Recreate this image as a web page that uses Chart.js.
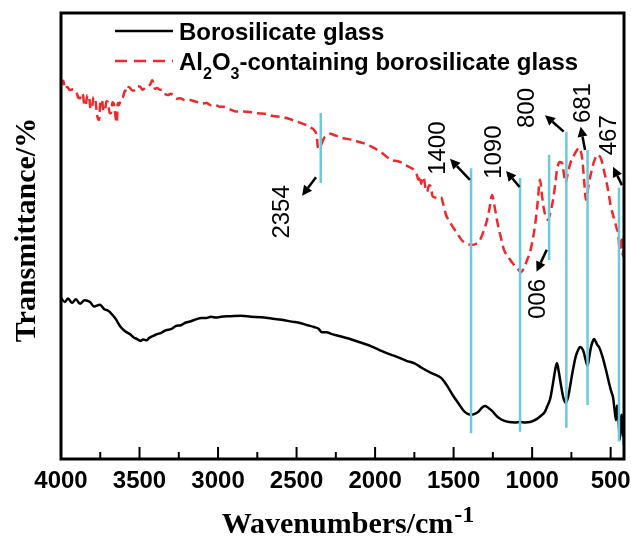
<!DOCTYPE html>
<html>
<head>
<meta charset="utf-8">
<script src="https://cdn.jsdelivr.net/npm/chart.js@4.4.0/dist/chart.umd.min.js"></script>
<style>
  html, body { margin: 0; padding: 0; background: #fff; }
  #wrap { width: 631px; height: 537px; }
</style>
</head>
<body>
<div id="wrap"><canvas id="ftir"></canvas></div>
<script>
// FTIR spectra, transmittance in arbitrary units (0-100)
const seriesNames = ['Borosilicate glass', 'Al2O3-containing borosilicate glass'];

const xTicks = [500, 750, 1000, 1250, 1500, 1750, 2000, 2250, 2500, 2750, 3000, 3250, 3500, 3750, 4000];

// Borosilicate glass
const boroWn = [4000, 3975, 3955, 3930, 3905, 3879, 3850, 3815, 3790, 3752, 3725, 3697, 3656, 3620, 3590, 3561,
  3535, 3516, 3495, 3478, 3455, 3440, 3400, 3363, 3330, 3300, 3270, 3236, 3205, 3172, 3140, 3108, 3075, 3045,
  3010, 2981, 2920, 2854, 2790, 2726, 2660, 2593, 2530, 2478, 2430, 2389, 2360, 2338, 2310, 2274, 2211, 2150,
  2083, 2020, 1956, 1900, 1860, 1800, 1752, 1700, 1644, 1610, 1580, 1560, 1536, 1505, 1472, 1440, 1427, 1410,
  1389, 1365, 1345, 1320, 1300, 1280, 1255, 1230, 1211, 1180, 1147, 1110, 1077, 1045, 1013, 990, 969, 940, 920,
  905, 885, 867, 855, 842, 830, 816, 800, 785, 770, 755, 740, 723, 710, 695, 682, 670, 660, 647, 636, 625, 615,
  606, 595, 585, 574, 555, 530, 510, 495, 485, 475, 466, 460, 453, 447, 441, 435, 428, 422, 418, 415];
const boroT = [36.1, 35.2, 36.0, 35.0, 35.8, 34.8, 35.6, 35.2, 34.2, 34.6, 33.6, 33.2, 31.6, 29.6, 28.6, 28.0,
  27.2, 26.9, 26.5, 26.8, 26.6, 27.1, 27.8, 28.3, 28.9, 29.1, 29.8, 30.0, 30.6, 30.9, 31.3, 31.6, 31.6, 31.9,
  31.7, 31.9, 32.0, 32.1, 31.9, 31.8, 31.5, 31.2, 30.8, 30.5, 30.0, 29.6, 29.2, 28.4, 28.4, 28.0, 27.4, 26.8,
  26.0, 25.2, 24.2, 23.4, 22.9, 22.0, 21.5, 20.4, 19.3, 18.8, 18.2, 17.4, 16.1, 14.3, 12.6, 11.0, 10.5, 10.1,
  9.9, 10.1, 10.5, 11.5, 11.9, 11.5, 10.8, 9.8, 9.2, 8.6, 8.3, 8.2, 8.3, 8.2, 8.3, 8.6, 9.0, 9.8, 10.5,
  11.7, 13.5, 17.0, 19.6, 21.5, 19.5, 16.5, 13.6, 12.6, 14.0, 17.0, 20.0, 22.9, 24.2, 25.1, 24.8, 23.8, 22.3, 20.9, 23.0, 25.1, 26.3,
  26.9, 26.3, 25.6, 25.1, 23.3, 20.0, 17.0, 15.0, 13.9, 11.0, 8.7, 12.0, 10.5, 7.0, 4.3, 9.0, 9.9, 5.0, 8.0, 3.1];

// Al2O3-containing borosilicate glass
const aluWn = [4000, 3985, 3975, 3960, 3943, 3925, 3900, 3890, 3879, 3868, 3860, 3850, 3841, 3832, 3822, 3812,
  3803, 3793, 3783, 3770, 3758, 3748, 3739, 3730, 3720, 3710, 3701, 3690, 3682, 3672, 3663, 3652, 3645, 3638,
  3631, 3618, 3605, 3592, 3580, 3570, 3561, 3545, 3529, 3512, 3497, 3480, 3465, 3450, 3433, 3420, 3414, 3402,
  3389, 3370, 3350, 3335, 3319, 3300, 3287, 3265, 3242, 3210, 3179, 3150, 3128, 3100, 3072, 3045, 3019, 2990,
  2968, 2925, 2881, 2840, 2796, 2750, 2701, 2650, 2595, 2550, 2510, 2470, 2440, 2410, 2389, 2372, 2363, 2350,
  2338, 2325, 2312, 2287, 2250, 2211, 2150, 2083, 2050, 2020, 1990, 1956, 1920, 1892, 1860, 1828, 1790, 1752,
  1735, 1723, 1715, 1707, 1697, 1688, 1678, 1669, 1656, 1644, 1635, 1625, 1600, 1580, 1565, 1548, 1525, 1504,
  1475, 1449, 1421, 1400, 1383, 1360, 1332, 1310, 1287, 1270, 1255, 1240, 1224, 1200, 1179, 1150, 1124, 1095,
  1071, 1050, 1030, 1015, 1000, 983, 965, 950, 937, 924, 910, 899, 880, 864, 850, 842, 825, 810, 798, 788, 772,
  756, 735, 714, 700, 690, 680, 668, 658, 640, 625, 605, 582, 560, 539, 520, 498, 475, 460, 453, 446, 440, 434,
  428, 422, 418, 415];
const aluT = [84.0, 84.8, 83.0, 83.4, 82.7, 82.9, 82.1, 81.0, 80.9, 82.0, 81.6, 79.2, 79.6, 81.6, 81.4, 78.5,
  78.7, 81.2, 80.9, 77.0, 76.0, 80.4, 80.5, 78.0, 78.3, 80.2, 80.0, 77.5, 77.6, 80.0, 79.6, 76.5, 75.4, 79.8,
  79.4, 80.8, 81.2, 82.6, 82.3, 83.4, 83.2, 82.6, 82.7, 83.6, 83.5, 82.8, 83.2, 83.8, 83.9, 84.9, 84.6, 83.0,
  83.2, 82.8, 82.7, 81.8, 81.6, 81.9, 81.6, 80.8, 80.9, 80.4, 80.5, 80.2, 80.0, 79.7, 79.8, 79.3, 79.4, 79.0,
  79.0, 78.4, 77.9, 77.9, 77.8, 77.5, 77.4, 76.9, 76.7, 76.3, 75.8, 75.3, 74.9, 74.3, 73.8, 72.5, 69.7, 70.0,
  70.9, 72.0, 72.4, 72.9, 72.5, 72.0, 71.6, 70.9, 70.5, 70.0, 69.4, 68.6, 67.6, 67.0, 66.8, 66.4, 65.6, 64.8,
  63.8, 62.6, 63.5, 61.7, 63.2, 62.8, 60.5, 59.9, 61.4, 61.0, 59.0, 58.7, 58.5, 58.7, 57.0, 54.7, 53.2, 52.0,
  50.5, 49.1, 48.4, 48.1, 48.0, 48.2, 49.1, 51.0, 53.6, 56.5, 59.2, 56.8, 53.6, 49.8, 46.9, 45.2, 43.9, 42.8,
  41.9, 43.0, 44.8, 46.2, 48.5, 52.0, 57.5, 62.6, 59.0, 55.8, 54.2, 53.6, 55.8, 58.7, 62.5, 64.8, 66.6, 66.4, 64.0, 61.9, 64.2,
  66.4, 68.0, 69.3, 69.8, 69.0, 67.0, 62.0, 58.1, 61.5, 64.1, 66.8, 68.2, 67.2, 64.1, 61.0, 56.5, 53.5, 51.5, 50.7, 48.0, 46.9, 49.8,
  49.1, 45.5, 48.0, 45.3];

// marked bands: where the cyan line sits, its label, and its vertical extent
const bandPos = [2346, 1389, 1077, 892, 782, 647, 447];
const bandLabels = ['2354', '1400', '1090', '900', '800', '681', '467'];
const bandTop = [77.6, 65.2, 63.0, 68.2, 73.4, 69.3, 60.8];
const bandBottom = [61.9, 5.8, 6.1, 44.6, 7.0, 12.1, 3.9];

// label placement and arrows for each band (data units)
const notes = [
  { at: [2593, 55.4], rot: -90, tail: [2376, 63.2], head: [2465, 59.0] },
  { at: [1599, 69.7], rot: -90, tail: [1396, 62.6], head: [1523, 67.3] },
  { at: [1240, 68.8], rot: -90, tail: [1080, 61.0], head: [1166, 64.6] },
  { at: [982, 35.9], rot: 90, tail: [907, 46.9], head: [972, 42.0] },
  { at: [1033, 78.7], rot: -90, tail: [799, 73.4], head: [918, 77.1] },
  { at: [676, 79.8], rot: -90, tail: [663, 69.3], head: [691, 74.5] },
  { at: [510, 72.6], rot: -90, tail: [428, 61.4], head: [485, 65.5] }
];

const RED = '#f0282a';
const CYAN = '#6ccadd';
const SANS = '"Liberation Sans", Arial, sans-serif';
const SERIF = '"Liberation Serif", "Times New Roman", serif';

const toXY = (xs, ys) => xs.map((v, i) => ({ x: v, y: ys[i] }));

const bandSets = bandPos.map((p, i) => ({
  label: 'band ' + bandLabels[i],
  data: [{ x: p, y: bandTop[i] }, { x: p, y: bandBottom[i] }],
  borderColor: CYAN,
  borderWidth: 2.5,
  pointRadius: 0
}));

// text with chemical subscripts (digit after a letter)
function drawChem(ctx, text, x, y, size) {
  let cx = x;
  for (let i = 0; i < text.length; i++) {
    const ch = text[i];
    const sub = /\d/.test(ch) && i > 0 && /[A-Za-z]/.test(text[i - 1]);
    if (sub) {
      ctx.font = 'bold ' + Math.round(size * 0.68) + 'px ' + SANS;
      ctx.fillText(ch, cx, y + size * 0.4);
      cx += ctx.measureText(ch).width;
    } else {
      let j = i;
      let run = '';
      while (j < text.length && !(/\d/.test(text[j]) && j > 0 && /[A-Za-z]/.test(text[j - 1]))) {
        run += text[j];
        j++;
      }
      ctx.font = 'bold ' + size + 'px ' + SANS;
      ctx.fillText(run, cx, y);
      cx += ctx.measureText(run).width;
      i = j - 1;
    }
  }
}

function arrow(ctx, x1, y1, x2, y2) {
  const ang = Math.atan2(y2 - y1, x2 - x1);
  const hl = 10, hw = 5;
  const bx = x2 - hl * Math.cos(ang), by = y2 - hl * Math.sin(ang);
  ctx.beginPath();
  ctx.moveTo(x1, y1);
  ctx.lineTo(bx, by);
  ctx.stroke();
  ctx.beginPath();
  ctx.moveTo(x2, y2);
  ctx.lineTo(bx + hw * Math.sin(ang), by - hw * Math.cos(ang));
  ctx.lineTo(bx - hw * Math.sin(ang), by + hw * Math.cos(ang));
  ctx.closePath();
  ctx.fill();
}

const decor = {
  id: 'decor',
  afterDatasetsDraw(chart) {
    const { ctx, chartArea: a, scales: { x, y } } = chart;
    ctx.save();
    ctx.fillStyle = '#000';
    ctx.strokeStyle = '#000';

    // frame
    ctx.lineWidth = 3;
    ctx.strokeRect(a.left, a.top, a.right - a.left, a.bottom - a.top);

    // inward ticks on the wavenumber axis
    ctx.lineWidth = 2;
    x.ticks.forEach(t => {
      const px = x.getPixelForValue(t.value);
      const len = t.value % 500 === 0 ? 12 : 7;
      ctx.beginPath();
      ctx.moveTo(px, a.bottom);
      ctx.lineTo(px, a.bottom - len);
      ctx.stroke();
    });

    // band labels and arrows
    ctx.lineWidth = 2.5;
    ctx.font = '24px ' + SANS;
    ctx.textAlign = 'center';
    ctx.textBaseline = 'middle';
    notes.forEach((n, i) => {
      ctx.save();
      ctx.translate(x.getPixelForValue(n.at[0]), y.getPixelForValue(n.at[1]));
      ctx.rotate(n.rot * Math.PI / 180);
      ctx.fillText(bandLabels[i], 0, 0);
      ctx.restore();
      arrow(ctx, x.getPixelForValue(n.tail[0]), y.getPixelForValue(n.tail[1]),
        x.getPixelForValue(n.head[0]), y.getPixelForValue(n.head[1]));
    });

    // legend
    const rows = [
      { name: seriesNames[0], color: '#000', dash: [] },
      { name: seriesNames[1], color: RED, dash: [12, 7] }
    ];
    ctx.textAlign = 'left';
    ctx.textBaseline = 'alphabetic';
    rows.forEach((r, i) => {
      const cy = a.top + 18 + i * 30;
      ctx.save();
      ctx.strokeStyle = r.color;
      ctx.lineWidth = 2.5;
      ctx.setLineDash(r.dash);
      ctx.beginPath();
      ctx.moveTo(a.left + 54, cy);
      ctx.lineTo(a.left + 112, cy);
      ctx.stroke();
      ctx.restore();
      drawChem(ctx, r.name, a.left + 118, cy + 8.5, 24);
    });

    // axis titles
    ctx.font = 'bold 30px ' + SERIF;
    ctx.save();
    ctx.translate(35, (a.top + a.bottom) / 2 - 6);
    ctx.rotate(-Math.PI / 2);
    ctx.textAlign = 'center';
    ctx.fillText('Transmittance/%', 0, 0);
    ctx.restore();

    const main = 'Wavenumbers/cm';
    const sup = '-1';
    ctx.font = 'bold 30px ' + SERIF;
    const w1 = ctx.measureText(main).width;
    ctx.font = 'bold 24px ' + SERIF;
    const w2 = ctx.measureText(sup).width;
    const x0 = (a.left + a.right) / 2 + 5 - (w1 + w2) / 2;
    ctx.textAlign = 'left';
    ctx.font = 'bold 30px ' + SERIF;
    ctx.fillText(main, x0, 533);
    ctx.font = 'bold 24px ' + SERIF;
    ctx.fillText(sup, x0 + w1 + 1, 522);

    ctx.restore();
  }
};

new Chart(document.getElementById('ftir'), {
  type: 'line',
  data: {
    datasets: [
      ...bandSets,
      {
        label: seriesNames[1],
        data: toXY(aluWn, aluT),
        borderColor: RED,
        borderWidth: 2.5,
        borderDash: [9, 5],
        pointRadius: 0,
        cubicInterpolationMode: 'monotone'
      },
      {
        label: seriesNames[0],
        data: toXY(boroWn, boroT),
        borderColor: '#000',
        borderWidth: 2.5,
        pointRadius: 0,
        cubicInterpolationMode: 'monotone'
      }
    ]
  },
  options: {
    responsive: true,
    maintainAspectRatio: false,
    animation: false,
    events: [],
    layout: { padding: { left: 61, top: 13, right: 7, bottom: 0 } },
    plugins: { legend: { display: false }, tooltip: { enabled: false } },
    scales: {
      x: {
        type: 'linear',
        reverse: true,
        min: 415,
        max: 4000,
        bounds: 'data',
        afterBuildTicks: s => { s.ticks = xTicks.map(v => ({ value: v })); },
        afterFit: s => { s.height = 78; },
        grid: { display: false, drawTicks: false },
        border: { display: false },
        ticks: {
          autoSkip: false,
          maxRotation: 0,
          padding: 8,
          color: '#000',
          font: { family: SANS, size: 24, weight: 'bold' },
          callback: v => (v % 500 === 0 ? String(v) : '')
        }
      },
      y: { display: false, min: 0, max: 100 }
    }
  },
  plugins: [decor]
});
</script>
</body>
</html>
